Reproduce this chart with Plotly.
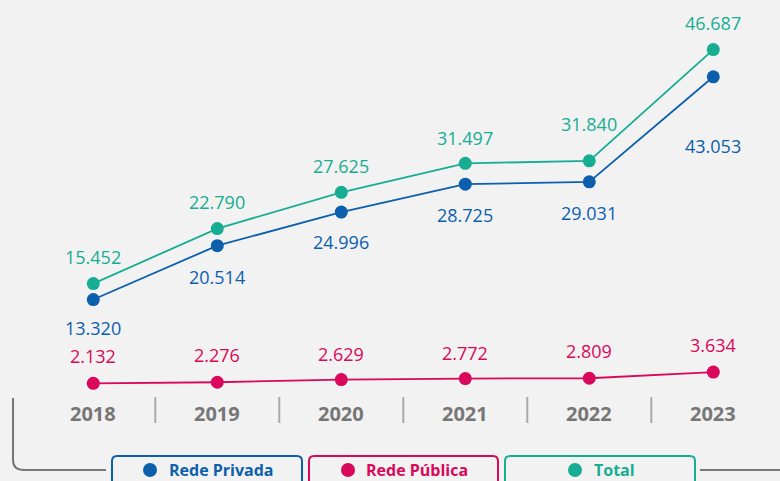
import plotly.graph_objects as go

# data
years = [2018, 2019, 2020, 2021, 2022, 2023]
total = [15452, 22790, 27625, 31497, 31840, 46687]
privada = [13320, 20514, 24996, 28725, 29031, 43053]
publica = [2132, 2276, 2629, 2772, 2809, 3634]

labels_total = ["15.452", "22.790", "27.625", "31.497", "31.840", "46.687"]
labels_privada = ["13.320", "20.514", "24.996", "28.725", "29.031", "43.053"]
labels_publica = ["2.132", "2.276", "2.629", "2.772", "2.809", "3.634"]

legend_names = ["Rede Privada", "Rede Pública", "Total"]

# colours
TEAL = "#17ad93"
BLUE = "#0b5fad"
PINK = "#d9085a"
GREY = "#767676"
BG = "#f2f2f2"
FONT = "Open Sans"

W, H = 780, 481


def px(x):
    return x / W


def py(y):
    return 1 - y / H


fig = go.Figure()

for vals, color in [(publica, PINK), (privada, BLUE), (total, TEAL)]:
    fig.add_trace(
        go.Scatter(
            x=years,
            y=vals,
            mode="lines+markers",
            line=dict(color=color, width=1.8),
            marker=dict(color=color, size=13),
            hoverinfo="skip",
            showlegend=False,
        )
    )

# value labels (offsets in px, style only)
shift_total = [27, 27, 26, 25, 37, 27]
shift_privada = [-28, -31, -30, -31, -31, -69]
shift_publica = [27, 27, 26, 26, 27, 27]

annotations = []
for vals, labs, shifts, color in [
    (total, labels_total, shift_total, TEAL),
    (privada, labels_privada, shift_privada, BLUE),
    (publica, labels_publica, shift_publica, PINK),
]:
    for x, v, t, s in zip(years, vals, labs, shifts):
        annotations.append(dict(
            x=x, y=v, xref="x", yref="y", text=t, showarrow=False,
            yshift=s, font=dict(family=FONT, size=18, color=color),
        ))

# year labels along the bottom
for x in years:
    annotations.append(dict(
        x=x, y=py(413), xref="x", yref="paper", text=f"<b>{x}</b>",
        xanchor="center", yanchor="middle",
        showarrow=False, font=dict(family=FONT, size=20, color=GREY),
    ))

shapes = []
# separators between years
for i in range(len(years) - 1):
    xm = (years[i] + years[i + 1]) / 2
    shapes.append(dict(
        type="line", xref="x", yref="paper", x0=xm, x1=xm,
        y0=py(397), y1=py(423), line=dict(color="#aaaaaa", width=2),
    ))

# bracket lines
shapes.append(dict(
    type="path", xref="paper", yref="paper",
    path=(f"M {px(13)} {py(398)} L {px(13)} {py(460)} "
          f"Q {px(13)} {py(470)} {px(24)} {py(470)} L {px(106)} {py(470)}"),
    line=dict(color=GREY, width=2),
))
shapes.append(dict(
    type="line", xref="paper", yref="paper", x0=px(700), x1=px(780),
    y0=py(470), y1=py(470), line=dict(color=GREY, width=2),
))

# legend boxes
boxes = [(112, 302, BLUE, 150, 167), (309, 498, PINK, 348, 364), (505, 695, TEAL, 575, 592)]
for (x0, x1, color, dot_x, text_x), name in zip(boxes, legend_names):
    r = 5
    y0, y1 = 456, 500
    path = (f"M {px(x0)} {py(y1)} L {px(x0)} {py(y0 + r)} "
            f"Q {px(x0)} {py(y0)} {px(x0 + r)} {py(y0)} "
            f"L {px(x1 - r)} {py(y0)} Q {px(x1)} {py(y0)} {px(x1)} {py(y0 + r)} "
            f"L {px(x1)} {py(y1)}")
    shapes.append(dict(type="path", xref="paper", yref="paper", path=path,
                       line=dict(color=color, width=2)))
    shapes.append(dict(type="circle", xref="paper", yref="paper",
                       x0=px(dot_x - 7), x1=px(dot_x + 7),
                       y0=py(470 - 7), y1=py(470 + 7),
                       fillcolor=color, line=dict(width=0)))
    annotations.append(dict(
        x=px(text_x), y=py(470), xref="paper", yref="paper",
        xanchor="left", yanchor="middle", text=f"<b>{name}</b>",
        showarrow=False, font=dict(family=FONT, size=16, color=color),
    ))

fig.update_layout(
    width=W,
    height=H,
    margin=dict(l=0, r=0, t=0, b=0),
    paper_bgcolor=BG,
    plot_bgcolor=BG,
    annotations=annotations,
    shapes=shapes,
    xaxis=dict(range=[2017.2476, 2023.538], visible=False, fixedrange=True),
    yaxis=dict(range=[-10907, 53307], visible=False, fixedrange=True),
)

fig.write_html(
    "out.html",
    config={"displayModeBar": False},
    post_script="document.body.style.margin='0';document.body.style.overflow='hidden';",
)
